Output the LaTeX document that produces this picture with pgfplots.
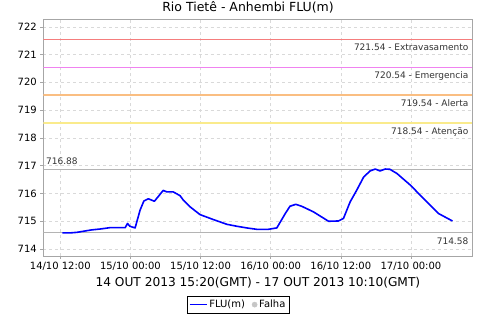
\documentclass[border=0pt]{standalone}
\usepackage{pgfplots}
\pgfplotsset{compat=1.18}
\usepackage{fontspec}
\setmainfont{DejaVu Sans}
\definecolor{threshA}{RGB}{245,125,125}
\definecolor{threshB}{RGB}{240,130,240}
\definecolor{threshC}{RGB}{250,190,130}
\definecolor{threshD}{RGB}{250,235,140}
\definecolor{refgray}{RGB}{180,180,180}
\begin{document}
\begin{tikzpicture}[x=1bp,y=1bp]
\path[use as bounding box] (0,0) rectangle (480,320);
\begin{axis}[
  at={(43.3bp,64.3bp)}, anchor=south west,
  scale only axis, width=429bp, height=236.4bp,
  xmin=9.09, xmax=82.5, ymin=713.76, ymax=722.27,
  xtick={12,24,36,48,60,72},
  xticklabels={14/10 12:00,15/10 00:00,15/10 12:00,16/10 00:00,16/10 12:00,17/10 00:00},
  ytick={714,715,716,717,718,719,720,721,722},
  /pgf/number format/assume math mode=true,
  /pgf/number format/set thousands separator={},
  tick label style={font=\fontsize{10bp}{12bp}\selectfont},
  tick align=outside, tick pos=left, major tick length=3bp,
  axis line style={gray!70},
  every tick/.style={gray!70},
  grid=major, major grid style={dashed, gray!30},
  legend style={at={(0.454,-0.170)}, anchor=north, font=\fontsize{10bp}{12bp}\selectfont,
    draw=black, legend columns=2, inner sep=2bp,
    /tikz/every even column/.append style={column sep=5bp}},
  legend cell align=left,
]
\addplot[draw=threshA, line width=1.3bp, forget plot] coordinates {(9.09,721.54) (82.5,721.54)};
\addplot[draw=threshB, line width=1.3bp, forget plot] coordinates {(9.09,720.54) (82.5,720.54)};
\addplot[draw=threshC, line width=1.3bp, forget plot] coordinates {(9.09,719.54) (82.5,719.54)};
\addplot[draw=threshD, line width=1.3bp, forget plot] coordinates {(9.09,718.54) (82.5,718.54)};
\addplot[draw=refgray, line width=1bp, forget plot] coordinates {(9.09,716.88) (82.5,716.88)};
\addplot[draw=refgray, line width=1bp, forget plot] coordinates {(9.09,714.58) (82.5,714.58)};
\addplot[color=blue, line width=1.6bp, line join=round] coordinates {
(12.35,714.58) (13.66,714.58) (14.8,714.60) (15.94,714.64) (17.4,714.69)
(18.8,714.72) (20.5,714.77) (23.1,714.77) (23.5,714.92) (23.9,714.82)
(24.8,714.76) (25.65,715.40) (26.3,715.73) (27.06,715.81) (28.1,715.72)
(28.8,715.90) (29.6,716.11) (30.2,716.06) (31.3,716.06) (32.5,715.92)
(33.05,715.76) (34.2,715.52) (35.9,715.24) (38.2,715.06) (40.5,714.89)
(42.2,714.82) (43.9,714.76) (45.6,714.71) (47.6,714.71) (49.05,714.76)
(50.5,715.28) (51.3,715.54) (52.3,715.61) (53.3,715.54) (55.3,715.34)
(57.9,715.00) (59.6,715.01) (60.45,715.10) (61.6,715.70) (62.7,716.11)
(63.9,716.59) (65.0,716.81) (65.9,716.88) (66.7,716.81) (67.6,716.88)
(68.4,716.87) (69.6,716.72) (71.9,716.30) (74.7,715.70) (76.7,715.28)
(79.1,715.01)
};
\addlegendentry{FLU(m)}
\addlegendimage{only marks, mark=*, color=gray!45, mark size=2.6bp}
\addlegendentry{Falha}
\begin{scope}[every node/.style={font=\fontsize{9bp}{11bp}\selectfont, inner sep=0pt, text=black!80}]
\node[anchor=base east] at (axis cs:81.85,721.14) {721.54 - Extravasamento};
\node[anchor=base east] at (axis cs:81.85,720.14) {720.54 - Emergencia};
\node[anchor=base east] at (axis cs:81.85,719.14) {719.54 - Alerta};
\node[anchor=base east] at (axis cs:81.85,718.14) {718.54 - Atenção};
\node[anchor=base west] at (axis cs:9.55,717.05) {716.88};
\node[anchor=base east] at (axis cs:81.85,714.17) {714.58};
\end{scope}
\end{axis}
\node[anchor=base, font=\fontsize{12.5bp}{15bp}\selectfont] at (248,308.3) {Rio Tietê - Anhembi FLU(m)};
\node[anchor=base, font=\fontsize{12.2bp}{15bp}\selectfont] at (257.9,34) {14 OUT 2013 15:20(GMT) - 17 OUT 2013 10:10(GMT)};
\end{tikzpicture}
\end{document}
